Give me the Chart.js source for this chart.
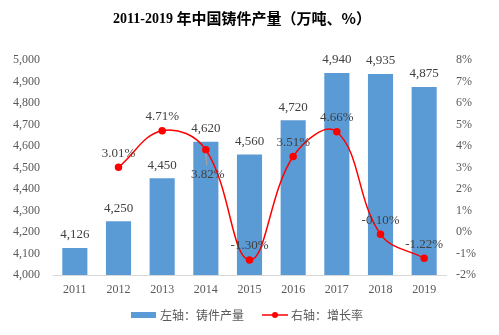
<!DOCTYPE html>
<html>
<head>
<meta charset="utf-8">
<script src="https://cdn.jsdelivr.net/npm/chart.js@4"></script>
<style>
html,body{margin:0;padding:0;background:#fff;}
#wrap{width:499px;height:335px;position:relative;}
</style>
</head>
<body>
<div id="wrap"><canvas id="c" width="499" height="335"></canvas></div>
<script>
const years = ['2011','2012','2013','2014','2015','2016','2017','2018','2019'];
const output = [4126, 4250, 4450, 4620, 4560, 4720, 4940, 4935, 4875];
const growth = [null, 3.01, 4.71, 3.82, -1.30, 3.51, 4.66, -0.10, -1.22];
const seriesNames = ['左轴：铸件产量', '右轴：增长率'];
const titleLatin = '2011-2019 ';
const titleCJK = '年中国铸件产量（万吨、%）';
// label placement style (not data): 'below' puts label under point with a leader line
const growthLabelPlace = ['above','above','above','below','above','above','above','above','above'];

const BAR_COLOR = '#5B9BD5';
const LINE_COLOR = '#FF0000';
const SERIF = '"Liberation Serif", "Times New Roman", serif';
const CJK = '"Noto Sans CJK SC", sans-serif';

const overlay = {
  id: 'overlay',
  afterDatasetsDraw(chart) {
    const ctx = chart.ctx;
    ctx.save();
    // bar labels
    const barMeta = chart.getDatasetMeta(0);
    ctx.font = '13px ' + SERIF;
    ctx.fillStyle = '#404040';
    ctx.textAlign = 'center';
    ctx.textBaseline = 'middle';
    barMeta.data.forEach((el, i) => {
      ctx.fillText(output[i].toLocaleString('en-US'), el.x, el.y - 13);
    });
    // line labels
    const lineMeta = chart.getDatasetMeta(1);
    lineMeta.data.forEach((el, i) => {
      const v = growth[i];
      if (v === null || v === undefined) return;
      const txt = v.toFixed(2) + '%';
      if (growthLabelPlace[i] === 'below') {
        ctx.strokeStyle = '#A6A6A6';
        ctx.lineWidth = 1;
        ctx.beginPath();
        ctx.moveTo(el.x, el.y + 3);
        ctx.lineTo(el.x + 1, el.y + 16);
        ctx.stroke();
        ctx.fillText(txt, el.x + 2, el.y + 25);
      } else {
        ctx.fillText(txt, el.x, el.y - 14);
      }
    });
    ctx.restore();
  },
  afterDraw(chart) {
    const ctx = chart.ctx;
    ctx.save();
    // title
    ctx.textBaseline = 'middle';
    ctx.fillStyle = '#000';
    ctx.font = 'bold 14px ' + SERIF;
    const w1 = ctx.measureText(titleLatin).width;
    ctx.font = 'bold 15px ' + CJK;
    const w2 = ctx.measureText(titleCJK).width;
    let x0 = 242 - (w1 + w2) / 2;
    ctx.textAlign = 'left';
    ctx.font = 'bold 14px ' + SERIF;
    ctx.fillText(titleLatin, x0, 19);
    ctx.font = 'bold 15px ' + CJK;
    ctx.fillText(titleCJK, x0 + w1, 18);

    // legend
    const ly = 315;
    ctx.fillStyle = BAR_COLOR;
    ctx.fillRect(131, ly - 3, 25, 6);
    ctx.font = '12px ' + CJK;
    ctx.fillStyle = '#595959';
    ctx.fillText(seriesNames[0], 160, ly);
    ctx.strokeStyle = LINE_COLOR;
    ctx.lineWidth = 1.5;
    ctx.beginPath();
    ctx.moveTo(262, ly);
    ctx.lineTo(288, ly);
    ctx.stroke();
    ctx.fillStyle = LINE_COLOR;
    ctx.beginPath();
    ctx.arc(275, ly, 3, 0, Math.PI * 2);
    ctx.fill();
    ctx.fillStyle = '#595959';
    ctx.fillText(seriesNames[1], 291, ly);
    ctx.restore();
  }
};

new Chart(document.getElementById('c'), {
  type: 'bar',
  data: {
    labels: years,
    datasets: [
      {
        type: 'bar',
        label: seriesNames[0],
        data: output,
        backgroundColor: BAR_COLOR,
        yAxisID: 'y',
        categoryPercentage: 1,
        barPercentage: 0.575,
        order: 2
      },
      {
        type: 'line',
        label: seriesNames[1],
        data: growth,
        borderColor: LINE_COLOR,
        backgroundColor: LINE_COLOR,
        borderWidth: 1.5,
        pointRadius: 3,
        pointHoverRadius: 3,
        tension: 0.4,
        yAxisID: 'y1',
        order: 1
      }
    ]
  },
  options: {
    responsive: false,
    animation: false,
    devicePixelRatio: 1,
    layout: { padding: { top: 60, left: 0, right: 0, bottom: 0 } },
    plugins: {
      legend: { display: false },
      title: { display: false },
      tooltip: { enabled: false }
    },
    scales: {
      x: {
        grid: { display: false, drawTicks: false },
        border: { display: true, color: '#D9D9D9', width: 1 },
        ticks: { font: { family: SERIF, size: 12 }, color: '#595959', padding: 8 },
        afterFit(s) { s.height = 60; }
      },
      y: {
        position: 'left',
        min: 4000, max: 5000,
        grid: { display: false, drawTicks: false },
        border: { display: false },
        ticks: {
          stepSize: 100,
          font: { family: SERIF, size: 12 },
          color: '#595959',
          padding: 13,
          callback: v => v.toLocaleString('en-US')
        },
        afterFit(s) { s.width = 53; }
      },
      y1: {
        position: 'right',
        min: -2, max: 8,
        grid: { display: false, drawTicks: false },
        border: { display: false },
        ticks: {
          stepSize: 1,
          font: { family: SERIF, size: 12 },
          color: '#595959',
          padding: 10,
          callback: v => v + '%'
        },
        afterFit(s) { s.width = 53; }
      }
    }
  },
  plugins: [overlay]
});
</script>
</body>
</html>
